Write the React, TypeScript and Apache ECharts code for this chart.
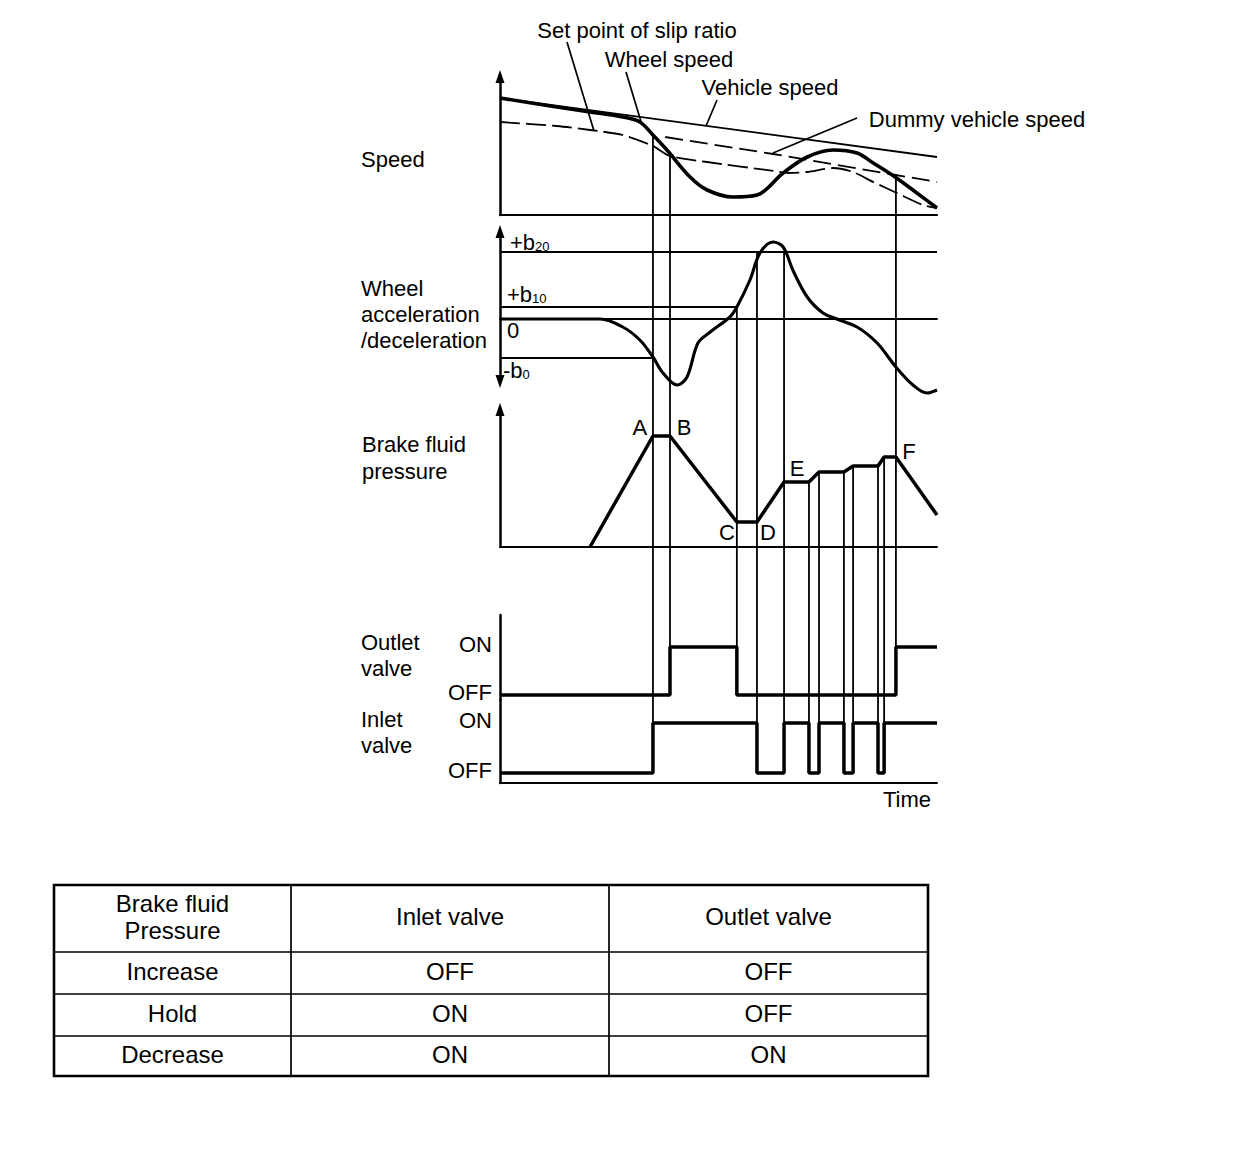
import React, { useEffect, useRef } from 'react';
import * as echarts from 'echarts';

const FONT = '"Liberation Sans", Arial, Helvetica, sans-serif';

// ---- Data (time axis 0..100, arbitrary units) ----
const vehicleSpeed = [[0, 11.7], [100, 5.8]];
const wheelSpeed = [
  [0, 11.7], [13, 10.8], [20.6, 10.3], [28.1, 9.8], [32, 9.3], [35, 8.0], [38.2, 6.5],
  [43.5, 3.8], [47.4, 2.5], [53.3, 1.8], [58.8, 2.0], [64.8, 4.2], [70.3, 5.8],
  [76.2, 6.5], [81.7, 6.2], [85.4, 5.2], [90.4, 3.8], [95.4, 2.2], [100, 0.7],
];
const slipSetPoint = [
  [0, 9.3], [13, 8.9], [20.6, 8.5], [28.1, 8.0], [35, 6.9], [38.9, 5.9], [47.4, 5.3],
  [62.7, 4.4], [66, 4.2], [70.3, 4.3], [76.2, 4.7], [80.8, 4.3], [85.4, 3.3],
  [90.8, 2.2], [96.8, 1.0], [100, 0.7],
];
const dummyVehicleSpeed = [[37.8, 7.8], [62.5, 6.1], [100, 3.3]];

const B20 = 6.7;
const B10 = 1.2;
const B0 = 3.9;
const wheelAccel = [
  [0, 0], [22.9, 0], [28.1, -0.8], [32, -2.1], [35, -3.8], [37.3, -5.4], [40.5, -6.6],
  [42.8, -5.8], [45.3, -2.4], [48.1, -1.3], [52.6, 0.2], [54.2, 1.2], [57.2, 3.9],
  [59.5, 6.6], [62.5, 7.7], [64.8, 7.2], [67, 4.9], [70.3, 2.2], [73.9, 0.6],
  [77.1, 0], [81.7, -0.8], [86.3, -2.4], [90.6, -4.8], [94.5, -6.6], [97.7, -7.4], [100, -7.1],
];

const brakePressure = [
  [20.6, 0], [35, 11.1], [38.9, 11.1], [54.2, 2.5], [58.8, 2.5], [65, 6.5], [70.7, 6.5],
  [73, 7.5], [78.7, 7.5], [80.8, 8.1], [86.5, 8.1], [87.9, 9.0], [90.6, 9.0], [100, 3.2],
];

// valve states: 0 = OFF, 1 = ON (value held until next change)
const outletValve = [[0, 0], [38.9, 1], [54.2, 0], [90.6, 1], [100, 1]];
const inletValve = [
  [0, 0], [35, 1], [58.8, 0], [65, 1], [70.7, 0], [73, 1], [78.7, 0], [80.8, 1],
  [86.5, 0], [87.9, 1], [100, 1],
];

// event lines: time, start [grid, value], end [grid, value]
const eventLines = [
  { t: 35, from: [0, 7.8], to: [4, 1] },
  { t: 38.9, from: [0, 6.0], to: [3, 0] },
  { t: 54.2, from: [1, B10], to: [3, 0] },
  { t: 58.8, from: [1, B20], to: [4, 0] },
  { t: 65, from: [1, B20], to: [4, 0] },
  { t: 70.7, from: [2, 6.5], to: [4, 0] },
  { t: 73, from: [2, 7.5], to: [4, 0] },
  { t: 78.7, from: [2, 7.5], to: [4, 0] },
  { t: 80.8, from: [2, 8.1], to: [4, 0] },
  { t: 86.5, from: [2, 8.1], to: [4, 0] },
  { t: 87.9, from: [2, 9.0], to: [4, 0] },
  { t: 90.6, from: [0, 3.7], to: [3, 0] },
];

const pressureLabels = [
  { text: 'A', t: 35, v: 11.1, dx: -13, dy: -9 },
  { text: 'B', t: 38.9, v: 11.1, dx: 14, dy: -9 },
  { text: 'C', t: 54.2, v: 2.5, dx: -10, dy: 10 },
  { text: 'D', t: 58.8, v: 2.5, dx: 11, dy: 10 },
  { text: 'E', t: 65, v: 6.5, dx: 13, dy: -14 },
  { text: 'F', t: 90.6, v: 9.0, dx: 13, dy: -6 },
];

const tableHeader = ['Brake fluid\nPressure', 'Inlet valve', 'Outlet valve'];
const tableRows = [
  ['Increase', 'OFF', 'OFF'],
  ['Hold', 'ON', 'OFF'],
  ['Decrease', 'ON', 'ON'],
];

const BLACK = '#000';

function buildOption(): any {
  const gridDefs = [
    { top: 76.5, height: 138.5, min: 0, max: 13.85, arrows: ['none', 'triangle'] },
    { top: 231.5, height: 150, min: -6.25, max: 8.75, arrows: ['triangle', 'triangle'] },
    { top: 409.5, height: 137.5, min: 0, max: 13.75, arrows: ['none', 'triangle'] },
    { top: 615, height: 85, min: -0.104, max: 1.667, arrows: ['none', 'none'] },
    { top: 700, height: 83, min: -0.2, max: 1.46, arrows: ['none', 'none'] },
  ];
  const xLine = [
    { show: true, onZero: true, width: 2 },
    { show: true, onZero: true, width: 1.9 },
    { show: true, onZero: true, width: 1.9 },
    { show: false, onZero: false, width: 2 },
    { show: true, onZero: false, width: 2 },
  ];
  const grid = gridDefs.map((g) => ({ left: 500, width: 437, top: g.top, height: g.height }));
  const xAxis = gridDefs.map((g, i) => ({
    type: 'value', gridIndex: i, min: 0, max: 100,
    axisLabel: { show: false }, axisTick: { show: false }, splitLine: { show: false },
    axisLine: { show: xLine[i].show, onZero: xLine[i].onZero, lineStyle: { color: BLACK, width: xLine[i].width } },
  }));
  const yAxis = gridDefs.map((g, i) => ({
    type: 'value', gridIndex: i, min: g.min, max: g.max,
    axisLabel: { show: false }, axisTick: { show: false }, splitLine: { show: false },
    axisLine: {
      show: true, onZero: false, symbol: g.arrows, symbolSize: [9, 13],
      lineStyle: { color: BLACK, width: 2.5 },
    },
  }));
  const line = (idx: number, data: any, width: number, extra: any = {}) => ({
    type: 'line', xAxisIndex: idx, yAxisIndex: idx, data, symbol: 'none', silent: true,
    clip: false, lineStyle: { color: BLACK, width, ...(extra.lineStyle || {}) },
    ...Object.fromEntries(Object.entries(extra).filter(([k]) => k !== 'lineStyle')),
  });
  const series = [
    line(0, vehicleSpeed, 1.8),
    line(0, slipSetPoint, 1.8, { smooth: 0.25, lineStyle: { type: [20, 6] } }),
    line(0, dummyVehicleSpeed, 1.8, { lineStyle: { type: [18, 7] } }),
    line(0, wheelSpeed, 3.6, { smooth: 0.35 }),
    line(1, wheelAccel, 3.1, {
      smooth: 0.35,
      markLine: {
        silent: true, symbol: ['none', 'none'], label: { show: false },
        lineStyle: { color: BLACK, width: 1.8, type: 'solid' },
        data: [
          [{ coord: [0, B20] }, { coord: [100, B20] }],
          [{ coord: [0, B10] }, { coord: [54.2, B10] }],
          [{ coord: [0, -B0] }, { coord: [35, -B0] }],
        ],
      },
    }),
    line(2, brakePressure, 3.5),
    line(3, outletValve, 3.5, { step: 'end' }),
    line(4, inletValve, 3.5, { step: 'end' }),
  ];
  return { animation: false, backgroundColor: '#fff', grid, xAxis, yAxis, series };
}

export default function App() {
  const ref = useRef<HTMLDivElement>(null);
  useEffect(() => {
    const chart = echarts.init(ref.current as HTMLDivElement, null, { renderer: 'svg' });
    chart.setOption(buildOption());
    const px = (g: number, t: number, v: number) =>
      chart.convertToPixel({ gridIndex: g } as any, [t, v]) as unknown as number[];

    const txt = (text: string, x: number, y: number, style: any = {}) => ({
      type: 'text', x, y, silent: true,
      style: { text, fill: BLACK, fontSize: 22, fontFamily: FONT, align: 'left', verticalAlign: 'middle', ...style },
    });
    const seg = (x1: number, y1: number, x2: number, y2: number, w = 1.7) => ({
      type: 'line', silent: true, shape: { x1, y1, x2, y2 }, style: { stroke: BLACK, lineWidth: w },
    });

    const g: any[] = [];
    // event lines
    eventLines.forEach((e) => {
      const p1 = px(e.from[0], e.t, e.from[1]);
      const p2 = px(e.to[0], e.t, e.to[1]);
      g.push(seg(p1[0], p1[1], p2[0], p2[1], 1.8));
    });
    // pointer lines and curve names
    g.push(seg(567, 42, 594, 131));
    g.push(seg(626, 72, 642, 125));
    g.push(seg(717, 100, 706, 126));
    g.push(seg(857, 118, 773, 153));
    g.push(txt('Set point of slip ratio', 637, 30, { align: 'center' }));
    g.push(txt('Wheel speed', 669, 59, { align: 'center' }));
    g.push(txt('Vehicle speed', 770, 87, { align: 'center' }));
    g.push(txt('Dummy vehicle speed', 977, 119, { align: 'center' }));
    // panel titles
    g.push(txt('Speed', 361, 159));
    g.push(txt('Wheel', 361, 288));
    g.push(txt('acceleration', 361, 314));
    g.push(txt('/deceleration', 361, 340));
    g.push(txt('Brake fluid', 362, 444));
    g.push(txt('pressure', 362, 471));
    g.push(txt('Outlet', 361, 642));
    g.push(txt('valve', 361, 668));
    g.push(txt('Inlet', 361, 719));
    g.push(txt('valve', 361, 745));
    g.push(txt('Time', 907, 799, { align: 'center' }));
    // acceleration level labels
    const rich = { b: { fontSize: 22, fontFamily: FONT, fill: BLACK }, s: { fontSize: 13, fontFamily: FONT, fill: BLACK, padding: [8, 0, 0, 0] } };
    const yb20 = px(1, 0, B20)[1];
    const yb10 = px(1, 0, B10)[1];
    const y0 = px(1, 0, 0)[1];
    const yb0 = px(1, 0, -B0)[1];
    g.push(txt('{b|+b}{s|20}', 510, yb20 - 10, { rich }));
    g.push(txt('{b|+b}{s|10}', 507, yb10 - 13, { rich }));
    g.push(txt('0', 507, y0 + 11));
    g.push(txt('{b|-b}{s|0}', 503, yb0 + 12, { rich }));
    // pressure point labels
    pressureLabels.forEach((l) => {
      const p = px(2, l.t, l.v);
      g.push(txt(l.text, p[0] + l.dx, p[1] + l.dy, { align: 'center' }));
    });
    // valve ON/OFF labels
    [3, 4].forEach((gi) => {
      [[1, 'ON'], [0, 'OFF']].forEach(([v, s]) => {
        const p = px(gi, 0, v as number);
        g.push(txt(s as string, 492, p[1] - 3, { align: 'right' }));
      });
    });
    // table
    const tx = [54, 291, 609, 928];
    const ty = [885, 952, 994, 1036, 1076];
    g.push({ type: 'rect', silent: true, shape: { x: tx[0], y: ty[0], width: tx[3] - tx[0], height: ty[4] - ty[0] }, style: { fill: 'none', stroke: BLACK, lineWidth: 2.6 } });
    [tx[1], tx[2]].forEach((x) => g.push(seg(x, ty[0], x, ty[4], 1.7)));
    [ty[1], ty[2], ty[3]].forEach((y) => g.push(seg(tx[0], y, tx[3], y, 1.7)));
    const cellRows = [tableHeader, ...tableRows];
    cellRows.forEach((row, r) => {
      row.forEach((cell, c) => {
        const cx = (tx[c] + tx[c + 1]) / 2;
        const cy = (ty[r] + ty[r + 1]) / 2 - 2;
        g.push(txt(cell, cx, cy, { align: 'center', fontSize: 24, lineHeight: 27 }));
      });
    });

    chart.setOption({ graphic: g });
    return () => chart.dispose();
  }, []);
  return (
    <div
      ref={ref}
      style={{ position: 'absolute', left: 0, top: 0, width: 1248, height: 1164, background: '#fff' }}
    />
  );
}
